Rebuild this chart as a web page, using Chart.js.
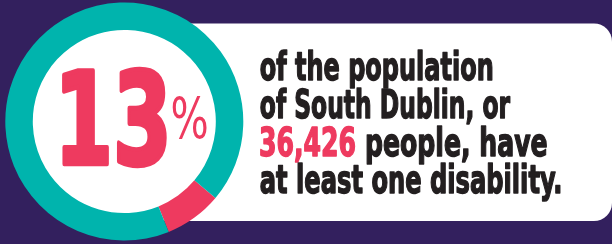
<!DOCTYPE html>
<html>
<head>
<meta charset="utf-8">
<script src="https://cdn.jsdelivr.net/npm/chart.js@4"></script>
<style>
html,body{margin:0;padding:0;background:#33205e;}
canvas{display:block;}
</style>
</head>
<body>
<canvas id="c" width="612" height="244"></canvas>
<script>
// ---- data ----
const segmentLabels = ['With at least one disability', 'Rest of population'];
const segmentValues = [7.8, 92.2];          // arc proportions as drawn in the graphic
const headlineValue = '13';
const headlineUnit = '%';
const textLine1 = 'of the population';
const textLine2 = 'of South Dublin, or';
const textLine3Highlight = '36,426';
const textLine3Rest = ' people, have';
const textLine4 = 'at least one disability.';

// ---- styles ----
const PURPLE = '#33205e';
const TEAL = '#00b4ad';
const PINK = '#ee3a5f';
const INK = '#231f20';
const NARROW = '"Liberation Sans Narrow", "DejaVu Sans Condensed", "Roboto", sans-serif';

function fitText(ctx, segments, font, left, baseline, inkW, sy, stroke) {
  ctx.font = font;
  const full = segments.map(s => s.t).join('');
  const m = ctx.measureText(full);
  const w = m.actualBoundingBoxLeft + m.actualBoundingBoxRight + stroke;
  const sx = inkW / w;
  ctx.save();
  ctx.translate(left + sx * (m.actualBoundingBoxLeft + stroke / 2), baseline);
  ctx.scale(sx, sy || 1);
  ctx.textAlign = 'left';
  ctx.textBaseline = 'alphabetic';
  ctx.lineJoin = 'round';
  ctx.lineWidth = stroke;
  let x = 0;
  for (const s of segments) {
    ctx.fillStyle = s.c;
    ctx.strokeStyle = s.c;
    ctx.fillText(s.t, x, 0);
    if (stroke > 0) ctx.strokeText(s.t, x, 0);
    x += ctx.measureText(s.t).width;
  }
  ctx.restore();
}

function fitBox(ctx, str, font, color, left, top, right, bottom, stroke) {
  ctx.font = font;
  const m = ctx.measureText(str);
  const w = m.actualBoundingBoxLeft + m.actualBoundingBoxRight + stroke;
  const h = m.actualBoundingBoxAscent + m.actualBoundingBoxDescent + stroke;
  const sx = (right - left) / w;
  const sy = (bottom - top) / h;
  ctx.save();
  ctx.translate(left + sx * (m.actualBoundingBoxLeft + stroke / 2), top + sy * (m.actualBoundingBoxAscent + stroke / 2));
  ctx.scale(sx, sy);
  ctx.fillStyle = color;
  ctx.strokeStyle = color;
  ctx.lineJoin = 'round';
  ctx.lineWidth = stroke;
  ctx.textAlign = 'left';
  ctx.textBaseline = 'alphabetic';
  ctx.fillText(str, 0, 0);
  if (stroke > 0) ctx.strokeText(str, 0, 0);
  ctx.restore();
}

const decor = {
  id: 'decor',
  beforeDraw(chart) {
    const ctx = chart.ctx;
    ctx.save();
    ctx.fillStyle = PURPLE;
    ctx.fillRect(0, 0, chart.width, chart.height);
    // white panel
    const L = 124, T = 23.5, R = 612, B = 221, r = 18;
    ctx.fillStyle = '#ffffff';
    ctx.beginPath();
    ctx.moveTo(L, T);
    ctx.lineTo(R - r, T);
    ctx.arcTo(R, T, R, T + r, r);
    ctx.lineTo(R, B - r);
    ctx.arcTo(R, B, R - r, B, r);
    ctx.lineTo(L, B);
    ctx.closePath();
    ctx.fill();
    ctx.restore();
  },
  beforeDatasetsDraw(chart) {
    const arc = chart.getDatasetMeta(0).data[0];
    if (!arc) return;
    const ctx = chart.ctx;
    ctx.save();
    ctx.fillStyle = '#ffffff';
    ctx.beginPath();
    ctx.arc(arc.x, arc.y, arc.innerRadius + 1, 0, Math.PI * 2);
    ctx.fill();
    ctx.restore();
  },
  afterDraw(chart) {
    const ctx = chart.ctx;
    // headline number
    fitBox(ctx, headlineValue, 'bold 140px ' + NARROW, PINK, 62, 65, 167, 168, 5);
    fitBox(ctx, headlineUnit, '60px ' + NARROW, PINK, 172, 97, 207, 140, 0);
    // statement
    const f = 'bold 37px ' + NARROW;
    fitText(ctx, [{t: textLine1, c: INK}], f, 260, 80, 233, 1.04, 1.4);
    fitText(ctx, [{t: textLine2, c: INK}], f, 260, 118, 251, 1.04, 1.4);
    fitText(ctx, [{t: textLine3Highlight, c: PINK}, {t: textLine3Rest, c: INK}], f, 260, 156, 287, 1.04, 1.4);
    fitText(ctx, [{t: textLine4, c: INK}], f, 260, 193, 301, 1.04, 1.4);
  }
};

new Chart(document.getElementById('c'), {
  type: 'doughnut',
  data: {
    labels: segmentLabels,
    datasets: [{
      data: segmentValues,
      backgroundColor: [PINK, TEAL],
      borderWidth: 0,
      hoverOffset: 0
    }]
  },
  options: {
    responsive: false,
    animation: false,
    rotation: 130,
    radius: 119,
    cutout: '76.9%',
    layout: { padding: { left: 0, top: 0, right: 363.4, bottom: 1 } },
    plugins: { legend: { display: false }, tooltip: { enabled: false } },
    events: []
  },
  plugins: [decor]
});
</script>
</body>
</html>
